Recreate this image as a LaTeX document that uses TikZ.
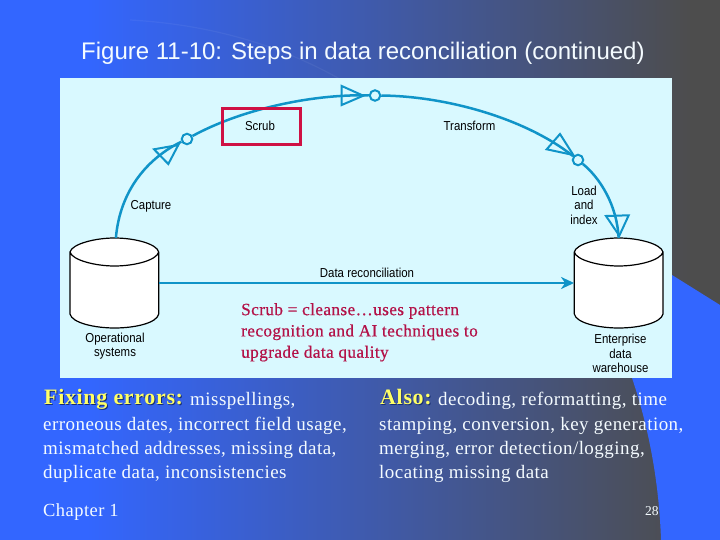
\documentclass[tikz,border=0pt]{standalone}
\usepackage{fontspec}
\usetikzlibrary{arrows.meta}
\setmainfont{Liberation Serif}
\newfontfamily\titlefont{Liberation Sans}
\newfontfamily\labfont[FakeStretch=0.88]{Liberation Sans}
\newfontfamily\bodyfont[LetterSpace=2.4]{Liberation Serif}
\newfontfamily\redfont[LetterSpace=2.4,FakeBold=0.6]{Liberation Serif}
\newfontfamily\hifont[LetterSpace=3]{Liberation Serif Bold}
\definecolor{bgblue}{HTML}{3366FF}
\definecolor{bggrey}{HTML}{4D4D4D}
\definecolor{panelc}{HTML}{D9F9FF}
\definecolor{flowc}{HTML}{1094C8}
\definecolor{boxred}{HTML}{CF1144}
\definecolor{redtext}{HTML}{B31248}
\definecolor{hiyellow}{HTML}{FFFF66}
\definecolor{softwhite}{HTML}{F4FBFF}
\pgfdeclarehorizontalshading{slidebg}{100bp}{
  color(0bp)=(bgblue); color(31bp)=(bgblue); color(73bp)=(bggrey); color(100bp)=(bggrey)}
\tikzset{
  x=1pt,y=-1pt,
  flow/.style={draw=flowc,line width=2.5pt},
  hub/.style={circle,draw=flowc,line width=2pt,inner sep=0pt,minimum size=10.5pt},
  tri/.style={draw=flowc,line width=2pt,line join=miter},
  lab/.style={inner sep=0pt,align=center,text=black,font=\labfont\fontsize{13}{14.4}\selectfont},
  db/.style={draw=black,fill=white,line width=1.2pt},
  dbanchor/.style={inner sep=0pt,minimum width=88.7pt,minimum height=90pt},
  body/.style={inner sep=0pt,anchor=base west,text=softwhite,font=\bodyfont\fontsize{19}{24}\selectfont},
  hi/.style={inner sep=0pt,anchor=base west,font=\hifont\fontsize{22}{24}\selectfont},
}
\begin{document}
\begin{tikzpicture}
\useasboundingbox (0,0) rectangle (720,540);
\shade[shading=slidebg] (0,0) rectangle (720,540);
% faint background sweep
\draw[white,opacity=.05,line width=1.2pt] (130,20) .. controls (220,25) and (290,50) .. (345,82);
% blue corner shape
\fill[bgblue] (672,275) -- (720,305) -- (720,540) -- (661,540)
  .. controls (659,480) and (648,425) .. (632,378) -- (620,330) -- cycle;
% panel
\fill[panelc] (60,78) rectangle (672,378);
% title
\node[inner sep=0pt,anchor=base west,text=softwhite,font=\titlefont\fontsize{24}{26}\selectfont] (title) at (81,60) {Figure 11-10: Steps in data reconciliation (continued)};
% databases
\draw[db] (70,252) -- (70,314) .. controls (72,323) and (95,328) .. (114.5,328)
  .. controls (135,328) and (157,323) .. (158.7,314) -- (158.7,252)
  .. controls (157,244) and (135,238) .. (114.5,238) .. controls (95,238) and (72,244) .. (70,252)
  .. controls (72,260) and (95,266) .. (114.5,266) .. controls (135,266) and (157,260) .. (158.7,252);
\draw[db] (574.3,252) -- (574.3,314) .. controls (576,323) and (599,328) .. (618.5,328)
  .. controls (639,328) and (661,323) .. (663,314) -- (663,252)
  .. controls (661,244) and (639,238) .. (618.5,238) .. controls (599,238) and (576,244) .. (574.3,252)
  .. controls (576,260) and (599,266) .. (618.5,266) .. controls (639,266) and (661,260) .. (663,252);
\node[dbanchor] (opsys) at (114.4,283) {};
\node[dbanchor] (dw) at (618.6,283) {};
% hubs
\node[hub] (h1) at (187,139) {};
\node[hub] (h2) at (375,95.5) {};
\node[hub] (h3) at (578,160) {};
% flow curves
\draw[flow] ([xshift=1.5pt]opsys.north) .. controls (120,190) and (148,158) .. (h1);
\draw[flow] (h1) .. controls (240,110) and (310,94) .. (h2);
\draw[flow] (h2) .. controls (445,96) and (525,118) .. (h3);
\draw[flow] (h3) .. controls (600,178) and (617,205) .. (dw.north);
\draw[flow,line width=2.9pt,-{Stealth[length=13pt,width=12pt,inset=4pt]}] (opsys) -- (dw);
% open triangular arrowheads
\draw[tri] (154,149.3) -- (168.3,164) -- (178.3,145) -- cycle;
\draw[tri] (341.7,86) -- (341.7,105) -- (363.3,95.7) -- cycle;
\draw[tri] (560,134) -- (546.7,149.3) -- (573.3,155) -- cycle;
\draw[tri] (606,216) -- (628.7,215.3) -- (619.3,235.7) -- cycle;
% scrub box
\node[draw=boxred,line width=2.8pt,minimum width=78pt,minimum height=36pt,inner sep=0pt,
      lab] (scrub) at (261.3,126.5) {};
\node[lab] (scrubtext) at (260,125.5) {Scrub};
% labels
\node[lab] (transform) at (469.5,125.5) {Transform};
\node[lab] (capture) at (151,206) {Capture};
\node[lab] (loadidx) at (584,205) {Load\\and\\index};
\node[lab] (recon) at (367,272.5) {Data reconciliation};
\node[lab] (oplab) at (115,346) {Operational\\systems};
\node[lab] (dwlab) at (620.5,353.5) {Enterprise\\data\\warehouse};
% red note
\node[inner sep=0pt,anchor=north west,align=left,text=redtext,
      font=\redfont\fontsize{17.2}{21.3}\selectfont] (note) at (241,303)
  {Scrub = cleanse\ldots uses pattern\\recognition and AI techniques to\\upgrade data quality};
% bottom left
\node[hi,text=black!55!bgblue] at (45,405) {Fixing errors:};
\node[hi,text=hiyellow] (fix) at (44,404) {Fixing errors:};
\node[body] (fix1) at (190,405) {misspellings,};
\node[body] (fix2) at (43,430) {erroneous dates, incorrect field usage,};
\node[body] (fix3) at (43,454) {mismatched addresses, missing data,};
\node[body] (fix4) at (43,478) {duplicate data, inconsistencies};
\node[body,font=\bodyfont\fontsize{18.5}{24}\selectfont] (chap) at (43,516) {Chapter 1};
% bottom right
\node[hi,text=black!55!bgblue] at (381,405) {Also:};
\node[hi,text=hiyellow] (also) at (380,404) {Also:};
\node[body] (a1) at (438,405) {decoding, reformatting, time};
\node[body] (a2) at (379,430) {stamping, conversion, key generation,};
\node[body] (a3) at (379,454) {merging, error detection/logging,};
\node[body] (a4) at (379,478) {locating missing data};
\node[inner sep=0pt,anchor=base west,text=softwhite,font=\fontsize{13.5}{14}\selectfont] (pg) at (645,515) {28};
\end{tikzpicture}
\end{document}
